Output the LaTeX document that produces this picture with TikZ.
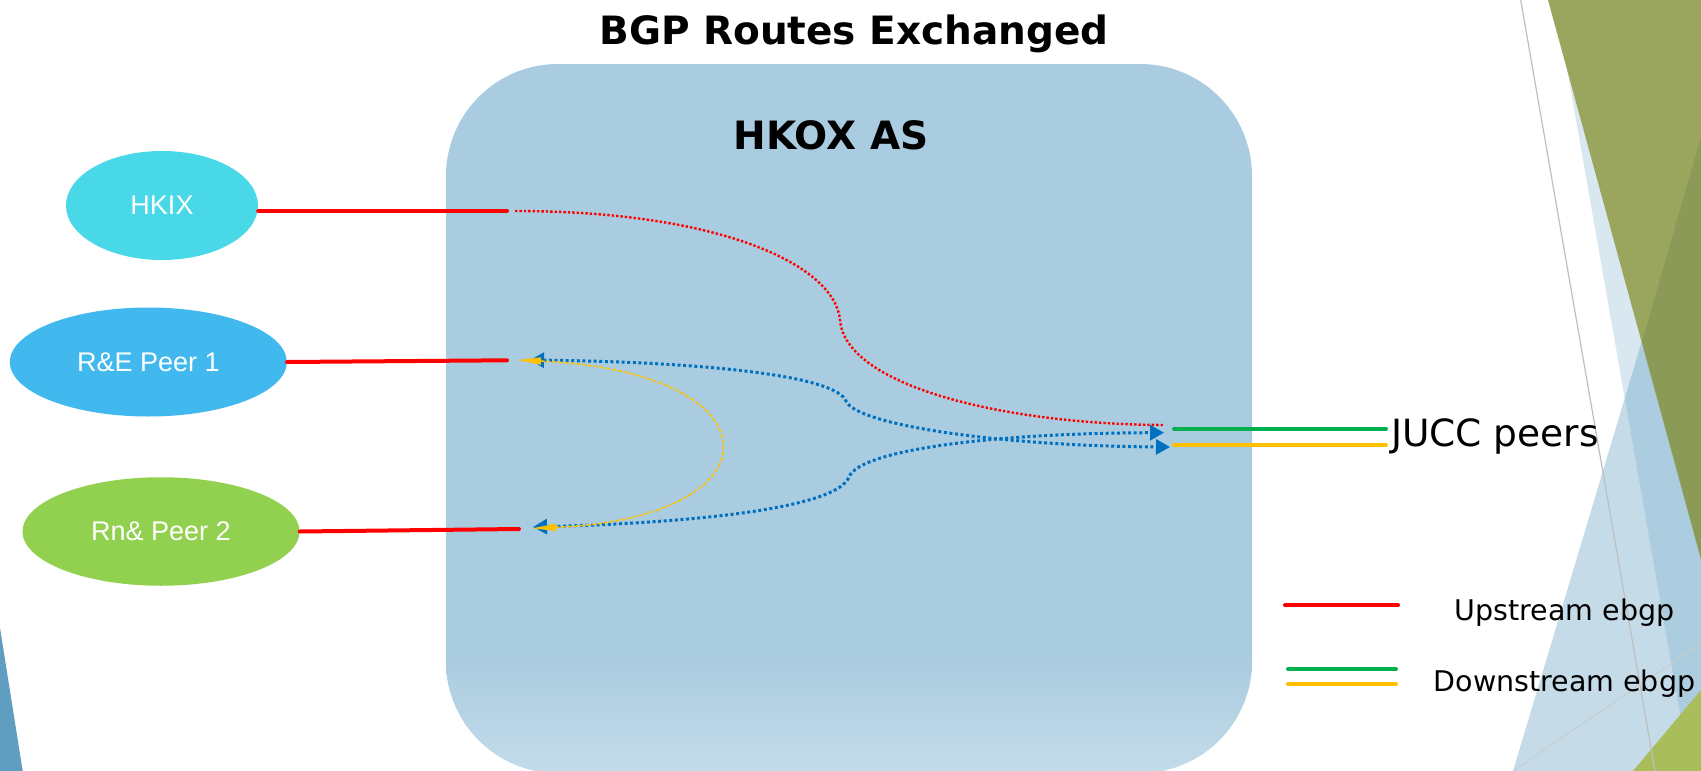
\documentclass[tikz,border=0pt]{standalone}
\usepackage{fontspec}
\setmainfont{DejaVu Sans}
\newfontfamily\arialfont{Liberation Sans}
\usetikzlibrary{arrows.meta,shapes.geometric}
\definecolor{boxblue}{HTML}{AACCE0}
\definecolor{boxlight}{HTML}{C4DCEA}
\definecolor{decoblue}{HTML}{5F9EC1}
\definecolor{oliveA}{HTML}{9AA55E}
\definecolor{oliveB}{HTML}{8B9B57}
\definecolor{limeC}{HTML}{A9BD5A}
\definecolor{hkixc}{HTML}{48D8E8}
\definecolor{rec}{HTML}{41B9EF}
\definecolor{rnc}{HTML}{92D050}
\definecolor{lred}{HTML}{FF0000}
\definecolor{lgreen}{HTML}{00B050}
\definecolor{lyellow}{HTML}{FFC000}
\definecolor{lblue}{HTML}{0070C0}
\tikzset{
  peer/.style={ellipse, inner sep=0pt, text=white, font=\arialfont\fontsize{27}{32}\selectfont},
  solidline/.style={line width=4pt, line cap=round},
  reddots/.style={draw=lred, line width=2.4pt, dash pattern=on 2.4pt off 2pt},
  bluedots/.style={draw=lblue, line width=3pt, dash pattern=on 3pt off 2.6pt, {Triangle[length=14pt,width=15pt]}-{Triangle[length=14pt,width=15pt]}},
  yellowdash/.style={draw=lyellow, line width=1.6pt, dash pattern=on 4pt off 2pt, {Triangle[length=24pt,width=7pt]}-{Triangle[length=24pt,width=7pt]}},
  bigtitle/.style={anchor=base, inner sep=0pt, font=\bfseries\fontsize{39}{46}\selectfont},
  label/.style={inner sep=0pt}
}
\begin{document}
\begin{tikzpicture}[x=1pt,y=-1pt]
\useasboundingbox (0,0) rectangle (1701,771);
\fill[white] (0,0) rectangle (1701,771);
% decoration
\begin{scope}
\clip (0,0) rectangle (1701,771);
\fill[decoblue, fill opacity=0.23] (1555,0) -- (1690,771) -- (1701,771) -- (1701,0) -- cycle;
\fill[decoblue, fill opacity=0.36] (1513,771) -- (1703,137) -- (1703,771) -- cycle;
\fill[oliveA] (1548,0) -- (1701,0) -- (1701,559) -- cycle;
\fill[oliveB] (1701,137) -- (1642,342) -- (1701,559) -- cycle;
\fill[limeC] (1633,771) -- (1701,690) -- (1701,771) -- cycle;
\draw[color=black!25, line width=1.2pt] (1520.7,0) -- (1655,771);
\draw[color=black!20, line width=1pt] (1513,771) -- (1701,643);
\fill[decoblue] (0,628) -- (22.7,771) -- (0,771) -- cycle;
\end{scope}
% HKOX box
\fill[boxblue, rounded corners=112pt] (446,64) rectangle (1252,773);
\begin{scope}
\clip[rounded corners=112pt] (446,64) rectangle (1252,773);
\shade[top color=boxblue, bottom color=boxlight] (446,660) rectangle (1252,773);
\end{scope}
% titles
\node[bigtitle] (title) at (854,44.6) {BGP Routes Exchanged};
\node[bigtitle] (hkox) at (831,149.3) {HKOX AS};
% coordinates
\coordinate (h1) at (507,211);
\coordinate (r1) at (507,360.3);
\coordinate (r2) at (519,529);
\coordinate (rdA) at (515,211);
\coordinate (rdB) at (1163,425);
\coordinate (bA) at (530,360);
\coordinate (bB) at (1170,447);
\coordinate (bC) at (533,527);
\coordinate (bD) at (1164,432.7);
\coordinate (yA) at (517,360);
\coordinate (yB) at (532,528.3);
\coordinate (g1) at (1174,428.7);
\coordinate (g2) at (1386,428.7);
\coordinate (o1) at (1174,445);
\coordinate (o2) at (1386,445);
\coordinate (lr1) at (1285,605.3);
\coordinate (lr2) at (1398,605.3);
\coordinate (lg1) at (1288,669);
\coordinate (lg2) at (1396,669);
\coordinate (ly1) at (1288,684);
\coordinate (ly2) at (1396,684);
% peers
\node[peer, fill=hkixc, minimum width=192pt, minimum height=109pt] (hkix) at (162,205.5) {HKIX};
\node[peer, fill=rec, minimum width=277pt, minimum height=109pt] (re) at (148.3,362) {R\&E Peer 1};
\node[peer, fill=rnc, minimum width=277pt, minimum height=108.5pt] (rn) at (161,531.5) {Rn\& Peer 2};
% upstream lines
\draw[solidline, lred] (hkix.east |- h1) -- (h1);
\draw[solidline, lred] (re.east) -- (r1);
\draw[solidline, lred] (rn.east) -- (r2);
% downstream lines
\draw[solidline, lgreen] (g1) -- (g2);
\draw[solidline, lyellow] (o1) -- (o2);
% route curves
\draw[reddots] (rdA) .. controls (720,211) and (835,265) .. (840,320) .. controls (845,385) and (1000,424) .. (rdB);
\draw[bluedots] (bA) .. controls (700,362) and (835,375) .. (846,401) .. controls (856,425) and (1000,446) .. (bB);
\draw[bluedots] (bC) .. controls (720,522) and (838,505) .. (849,477) .. controls (860,449) and (1000,433) .. (bD);
\draw[yellowdash] (yA) .. controls (782,372) and (782,518) .. (yB);
% labels
\node[label, anchor=base west, font=\fontsize{37.5}{44}\selectfont] (jucc) at (1391,446.7) {JUCC peers};
\node[label, anchor=base, font=\fontsize{28.5}{34}\selectfont] (up) at (1564.5,620) {Upstream ebgp};
\node[label, anchor=base, font=\fontsize{28.5}{34}\selectfont] (down) at (1564.5,691) {Downstream ebgp};
% legend
\draw[solidline, lred] (lr1) -- (lr2);
\draw[solidline, lgreen] (lg1) -- (lg2);
\draw[solidline, lyellow] (ly1) -- (ly2);
\end{tikzpicture}
\end{document}
